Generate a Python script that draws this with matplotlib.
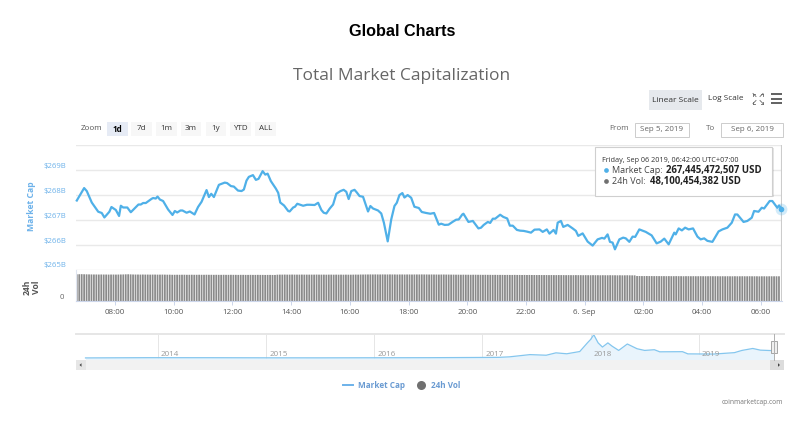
import matplotlib
matplotlib.use("Agg")
import matplotlib.pyplot as plt
from matplotlib.patches import Rectangle, Polygon
from matplotlib.lines import Line2D

plt.rcParams['font.family'] = ['Open Sans', 'DejaVu Sans']

# ---------- data ----------
cap_hours = [
 6.70,6.95,7.04,7.21,7.43,7.55,7.64,7.81,7.88,8.03,8.14,8.20,8.28,8.42,8.54,8.68,8.80,8.88,8.96,9.05,
 9.25,9.30,9.39,9.45,9.53,9.64,9.81,9.96,10.04,10.12,10.23,10.30,10.44,10.55,10.71,10.83,10.95,11.12,11.20,11.28,
 11.37,11.54,11.63,11.74,11.82,11.95,12.05,12.19,12.31,12.39,12.48,12.56,12.70,12.80,12.89,13.03,13.12,13.20,13.31,13.48,
 13.56,13.63,13.76,13.90,13.95,14.07,14.13,14.21,14.41,14.54,14.63,14.80,14.92,15.03,15.11,15.20,15.31,15.43,15.54,15.68,
 15.79,15.88,15.96,16.05,16.16,16.24,16.33,16.45,16.53,16.62,16.70,16.79,16.96,17.07,17.16,17.29,17.41,17.52,17.60,17.69,
 17.79,17.86,17.97,18.09,18.20,18.35,18.45,18.60,18.74,18.87,19.03,19.11,19.23,19.36,19.51,19.62,19.71,19.83,19.87,20.04,
 20.19,20.38,20.47,20.56,20.70,20.78,20.87,20.95,21.12,21.23,21.36,21.45,21.55,21.69,21.80,21.92,22.04,22.17,22.29,22.46,
 22.57,22.71,22.80,22.94,23.02,23.08,23.19,23.27,23.42,23.59,23.70,23.78,23.93,24.10,24.27,24.44,24.59,24.67,24.78,24.86,
 24.95,25.03,25.18,25.31,25.40,25.52,25.63,25.72,25.86,26.08,26.28,26.45,26.59,26.71,26.86,27.05,27.10,27.20,27.31,27.42,
 27.54,27.69,27.84,27.95,28.07,28.18,28.35,28.56,28.69,28.86,29.01,29.12,29.20,29.41,29.54,29.69,29.77,29.92,30.03,30.11,
 30.30,30.39,30.56,30.62,30.70]
cap_values = [
 267.77,268.27,268.15,267.69,267.32,267.27,267.09,267.32,267.51,267.39,267.15,267.56,267.49,267.49,267.30,267.47,267.61,267.61,267.67,267.67,
 267.84,267.87,267.85,267.93,267.81,267.75,267.41,267.19,267.35,267.29,267.37,267.37,267.28,267.33,267.21,267.51,267.72,268.19,267.91,268.04,
 267.91,268.40,268.44,268.49,268.47,268.35,268.33,268.17,268.15,268.21,268.57,268.72,268.79,268.60,268.64,268.95,268.81,268.85,268.55,268.25,
 268.08,267.69,267.57,267.35,267.33,267.49,267.52,267.64,267.56,267.60,267.60,267.59,267.68,267.39,267.28,267.25,267.44,267.61,268.04,268.15,
 268.20,268.12,267.83,268.15,268.20,268.09,267.95,267.92,267.64,267.33,267.55,267.45,267.37,267.25,266.88,266.13,267.01,267.55,267.68,267.99,
 268.07,267.89,267.99,267.88,267.52,267.47,267.31,267.27,267.24,267.27,266.80,266.84,266.79,266.80,266.92,267.00,267.01,267.21,267.24,266.91,
 266.95,266.65,266.68,266.79,266.91,266.87,267.04,267.04,267.20,267.11,267.05,266.76,266.76,266.59,266.56,266.55,266.52,266.48,266.60,266.61,
 266.51,266.61,266.44,266.59,266.44,266.88,266.95,266.71,266.79,266.65,266.55,266.35,266.45,266.12,265.96,266.21,266.27,266.24,266.41,266.11,
 266.08,265.81,266.21,266.28,266.25,266.11,266.32,266.31,266.61,266.51,266.37,266.05,266.12,266.24,266.01,266.48,266.41,266.65,266.57,266.68,
 266.61,266.65,266.32,266.21,266.25,266.15,266.11,266.53,266.61,266.68,266.88,267.21,267.21,266.91,266.95,267.08,267.35,267.32,267.48,267.45,
 267.75,267.75,267.48,267.57,267.445]

# 24h volume (billions of USD), one reading per five minutes
vol_values = [
 52.0,52.1,52.2,52.0,51.9,51.8,51.7,51.6,51.6,51.5,51.6,51.5,51.5,51.4,51.5,51.5,51.4,51.5,51.6,51.7,51.9,52.0,51.8,51.6,
 51.5,51.5,51.4,51.5,51.4,51.4,51.3,51.4,51.4,51.3,51.3,51.4,51.3,51.2,51.2,51.0,51.0,51.1,51.0,51.1,51.1,51.0,51.0,51.1,
 51.0,51.0,51.1,51.0,51.0,51.1,51.0,51.0,50.9,51.0,50.9,50.9,51.0,50.9,50.9,51.0,50.9,50.9,50.8,50.9,50.9,50.8,50.8,50.9,
 50.8,50.8,50.9,50.8,50.8,50.7,50.8,50.8,50.7,50.7,51.2,51.3,51.3,51.4,51.3,51.3,51.4,51.3,51.3,51.3,51.4,51.3,51.3,51.3,
 51.3,51.3,51.4,51.3,51.3,51.3,51.2,51.3,51.3,51.2,51.3,51.2,51.3,51.2,51.3,51.2,51.2,51.3,51.4,51.3,51.5,51.5,51.6,51.6,
 51.7,51.6,51.7,51.6,51.6,51.7,51.6,51.6,51.7,51.6,51.6,51.5,51.6,51.6,51.5,51.6,51.6,51.5,51.6,51.6,51.6,51.7,51.6,51.6,
 51.5,51.6,51.5,51.5,51.4,51.5,51.5,51.4,51.4,51.3,51.3,51.2,51.2,51.1,51.2,51.1,51.1,51.0,51.1,51.1,51.0,51.0,50.9,51.0,
 50.9,50.9,50.8,50.9,50.8,50.8,50.8,50.7,50.8,50.7,50.7,50.8,50.7,50.7,50.6,50.7,50.6,50.7,50.6,50.6,50.5,50.6,50.5,50.5,
 50.5,50.4,50.5,50.4,50.4,50.5,50.4,50.4,50.3,50.4,50.3,50.3,50.4,50.3,50.3,50.2,50.3,50.2,50.2,50.3,50.2,50.2,50.1,50.2,
 50.1,50.1,50.2,50.1,50.1,50.0,50.1,50.0,50.0,50.1,50.0,49.9,49.9,48.6,48.6,48.5,48.5,48.6,48.5,48.5,48.4,48.5,48.4,48.4,
 48.4,48.3,48.4,48.3,48.3,48.4,48.3,48.3,48.2,48.3,48.3,48.2,48.3,48.2,48.2,48.3,48.2,48.2,48.2,48.3,48.2,48.2,48.2,48.1,
 48.2,48.1,48.2,48.1,48.1,48.2,48.1,48.1,48.2,48.1,48.1,48.2,48.1,48.1,48.1,48.0,48.1,48.1,48.0,48.1,48.1,48.1,48.1,48.1]
vol_start = 6.70
vol_step = 1/12

cap_ticks = [265, 266, 267, 268, 269, 270]
cap_labels = ['$265B', '$266B', '$267B', '$268B', '$269B', '']
time_ticks = [8, 10, 12, 14, 16, 18, 20, 22, 24, 26, 28, 30]
time_labels = ['08:00','10:00','12:00','14:00','16:00','18:00','20:00','22:00','6. Sep','02:00','04:00','06:00']

nav_years = [2013.33,2013.9,2014.0,2014.5,2015.0,2015.5,2016.0,2016.5,2017.0,2017.15,2017.25,2017.44,2017.59,2017.68,2017.78,2017.90,
             2017.97,2018.0,2018.03,2018.07,2018.11,2018.16,2018.20,2018.26,2018.34,2018.43,2018.50,2018.59,2018.64,2018.85,2018.90,
             2019.14,2019.33,2019.40,2019.50,2019.57,2019.70]
nav_caps = [1.5,10,10,9,5,4,7,10,18,22,40,120,98,183,150,230,537,660,830,540,390,540,420,270,500,330,270,295,220,225,146,140,190,270,340,280,260]
nav_year_ticks = [2014, 2015, 2016, 2017, 2018, 2019]

W, H = 800, 425
fig = plt.figure(figsize=(8, 4.25), dpi=100, facecolor='white')

def box(x0, y0, x1, y1):
    return [x0/W, 1-y1/H, (x1-x0)/W, (y1-y0)/H]

BLUE = '#4fb0e8'
LBL = '#6db2ea'
GRID = '#e9e9e9'

# ---------- main axes ----------
ax = fig.add_axes(box(76, 145, 782, 269.5))
ax.plot(cap_hours, cap_values, color=BLUE, lw=1.6, solid_joinstyle='round', zorder=3, clip_on=False)
ax.plot(cap_hours[-1], cap_values[-1], 'o', ms=8.5, color=BLUE, alpha=0.25, mec='none', zorder=4, clip_on=False)
ax.plot(cap_hours[-1], cap_values[-1], 'o', ms=4, color=BLUE, mec='none', zorder=5, clip_on=False)
ax.set_xlim(6.673, 30.72)
ax.set_ylim(265, 270)
ax.set_yticks(cap_ticks)
ax.set_yticklabels(cap_labels)
ax.set_xticks([])
ax.grid(axis='y', color=GRID, lw=1)
ax.set_axisbelow(True)
for s in ax.spines.values():
    s.set_visible(False)
ax.tick_params(axis='y', length=0, pad=7, labelsize=5.6, labelcolor=LBL)
for l in ax.get_yticklabels():
    l.set_verticalalignment('bottom')
ax.set_ylabel('Market Cap', color=LBL, fontsize=6.2, fontweight='bold')
ax.yaxis.set_label_coords(-40/706, 0.51)
ax.axvline(cap_hours[-1], color='#cccccc', lw=0.8, zorder=2)

# ---------- volume axes ----------
av = fig.add_axes(box(76, 269.5, 782, 301))
vol_x = [vol_start + i*vol_step for i in range(len(vol_values))]
bars = av.bar(vol_x, vol_values, width=vol_step*0.72, color='#8a8a8a', lw=0, zorder=2)
for b in bars:
    b.set_snap(False)
av.set_xlim(ax.get_xlim())
av.set_ylim(0, 61.3)
av.set_yticks([0])
av.set_yticklabels(['0'])
av.set_xticks(time_ticks)
av.set_xticklabels(time_labels)
for s in av.spines.values():
    s.set_visible(False)
av.spines['bottom'].set_visible(True)
av.spines['bottom'].set_color('#ccd6eb')
av.spines['left'].set_visible(True)
av.spines['left'].set_color('#dfe5f0')
av.tick_params(axis='x', length=3, width=0.7, color='#ccd6eb', pad=3, labelsize=5.8, labelcolor='#555555')
av.tick_params(axis='y', length=0, pad=9, labelsize=5.6, labelcolor='#666666')
for l in av.get_yticklabels():
    l.set_verticalalignment('bottom')
av.set_ylabel('24h\nVol', color='#555555', fontsize=6.2, fontweight='bold', linespacing=1.0)
av.yaxis.set_label_coords(-35/706, 0.44)
av.axvline(cap_hours[-1], color='#cccccc', lw=0.8, zorder=3)

# ---------- navigator ----------
an = fig.add_axes(box(76, 334, 783.5, 360))
an.fill_between(nav_years, nav_caps, -80, color='#e9f4fc', lw=0, zorder=1)
an.plot(nav_years, nav_caps, color='#84c6ee', lw=0.9, zorder=2)
an.set_xlim(2013.242, 2019.784)
an.set_ylim(-73, 858)
an.set_yticks([])
an.set_xticks(nav_year_ticks)
an.set_xticklabels([])
an.tick_params(axis='x', length=0)
an.grid(axis='x', color='#e6e6e6', lw=0.7)
an.set_axisbelow(True)
for s in an.spines.values():
    s.set_visible(False)
an.spines['top'].set_visible(True)
an.spines['top'].set_color('#e6e6e6')
an.spines['top'].set_linewidth(1.4)
for y in nav_year_ticks:
    an.annotate(str(y), (y, 0), xycoords=('data', 'axes fraction'), xytext=(2.2, 1.2),
                textcoords='offset points', fontsize=5.8, color='#999999', va='bottom', ha='left')

# ---------- overlay ----------
ov = fig.add_axes([0, 0, 1, 1], facecolor='none', zorder=10)
ov.set_xlim(0, W)
ov.set_ylim(H, 0)
ov.axis('off')

ov.text(402, 31, 'Global Charts', family='Liberation Sans', fontweight='bold', fontsize=11.7, color='black', ha='center', va='center')
ov.text(402, 76, 'Total Market Capitalization', fontsize=12.5, color='#666666', ha='center', va='center')

def button(x0, x1, y0, y1, label, bg, color='#333333', weight='normal', size=5.8):
    ov.add_patch(Rectangle((x0, y0), x1-x0, y1-y0, fc=bg, ec='none'))
    ov.text((x0+x1)/2, (y0+y1)/2, label, fontsize=size, color=color, fontweight=weight, ha='center', va='center')

ov.text(81, 129, 'Zoom', fontsize=5.8, color='#555555', va='center')
button(107, 128, 122, 136, '1d', '#e6ebf5', 'black', 'bold')
for x0, x1, lab in [(131,152,'7d'),(156,177,'1m'),(181,201,'3m'),(206,226,'1y'),(230,251,'YTD'),(255,276,'ALL')]:
    button(x0, x1, 122, 136, lab, '#f7f7f7')

button(649, 702, 90, 110, 'Linear Scale', '#e6e9ed', '#333333', size=6.0)
ov.text(726, 98.5, 'Log Scale', fontsize=5.9, color='#333333', ha='center', va='center')

# fullscreen icon
for sx, sy in [(-1,-1),(1,-1),(-1,1),(1,1)]:
    cx, cy = 758, 98.5
    ov.plot([cx+sx*5, cx+sx*2], [cy+sy*5, cy+sy*2], color='#666666', lw=0.6)
    ov.plot([cx+sx*5, cx+sx*3], [cy+sy*5, cy+sy*5], color='#666666', lw=0.6)
    ov.plot([cx+sx*5, cx+sx*5], [cy+sy*5, cy+sy*3], color='#666666', lw=0.6)
# menu icon
for yy in [94, 98.5, 103]:
    ov.plot([771, 782], [yy, yy], color='#555555', lw=1.3, solid_capstyle='butt')

ov.text(609, 128.5, 'From', fontsize=5.8, color='#666666', va='center')
ov.text(706, 128.5, 'To', fontsize=5.8, color='#666666', va='center')
for x0, x1, lab in [(635, 689, 'Sep 5, 2019'), (721, 783, 'Sep 6, 2019')]:
    ov.add_patch(Rectangle((x0, 122.5), x1-x0, 14, fc='white', ec='#cccccc', lw=0.7))
    ov.text((x0+x1)/2, 129.5, lab, fontsize=5.8, color='#666666', ha='center', va='center')

# tooltip
ov.add_patch(Rectangle((596.5, 148), 177, 49, fc='#000000', alpha=0.10, ec='none'))
ov.add_patch(Rectangle((595, 146.7), 177, 49, fc='white', ec='#cfcfcf', lw=0.8))
ov.text(602.5, 160.5, 'Friday, Sep 06 2019, 06:42:00 UTC+07:00', fontsize=5.2, color='#333333', va='center')
ov.plot([606], [170], 'o', ms=3.4, color=BLUE, mec='none')
ov.text(612, 170, 'Market Cap:', fontsize=6.5, color='#444444', va='center')
ov.text(666, 170, '267,445,472,507 USD', fontsize=6.9, color='#222222', fontweight='bold', va='center')
ov.plot([606], [181], 'o', ms=3.4, color='#707070', mec='none')
ov.text(612, 181, '24h Vol:', fontsize=6.5, color='#444444', va='center')
ov.text(650.5, 181, '48,100,454,382 USD', fontsize=6.9, color='#222222', fontweight='bold', va='center')

# scrollbar
ov.add_patch(Rectangle((76, 360), 707.5, 10, fc='#f2f2f2', ec='none'))
ov.add_patch(Rectangle((76, 360), 9.5, 10, fc='#e6e6e6', ec='none'))
ov.add_patch(Rectangle((769.5, 360), 14, 10, fc='#dcdcdc', ec='none'))
ov.add_patch(Polygon([[79.5, 365], [81.5, 363.2], [81.5, 366.8]], fc='#444444', ec='none'))
ov.add_patch(Polygon([[780, 365], [778, 363.2], [778, 366.8]], fc='#444444', ec='none'))
ov.plot([773.7, 773.7], [334, 360], color='#b0b0b0', lw=0.7)
ov.add_patch(Rectangle((771, 341), 5.5, 11.5, fc='#f0f0f0', ec='#999999', lw=0.6))

# legend
handles = [Line2D([], [], color=LBL, lw=1.4), Line2D([], [], ls='none', marker='o', ms=6.5, color='#707070', mec='none')]
leg = ov.legend(handles, ['Market Cap', '24h Vol'], loc='center', bbox_to_anchor=(401.5/W, 1-385/H), bbox_transform=fig.transFigure,
                ncol=2, frameon=False, handlelength=1.3, columnspacing=1.4, handletextpad=0.5,
                prop={'size': 5.9, 'weight': 'bold'}, labelcolor='#6a9bd2')

ov.text(783, 402, 'coinmarketcap.com', fontsize=4.8, color='#777777', ha='right', va='center')

fig.savefig('out.png', dpi=100)
